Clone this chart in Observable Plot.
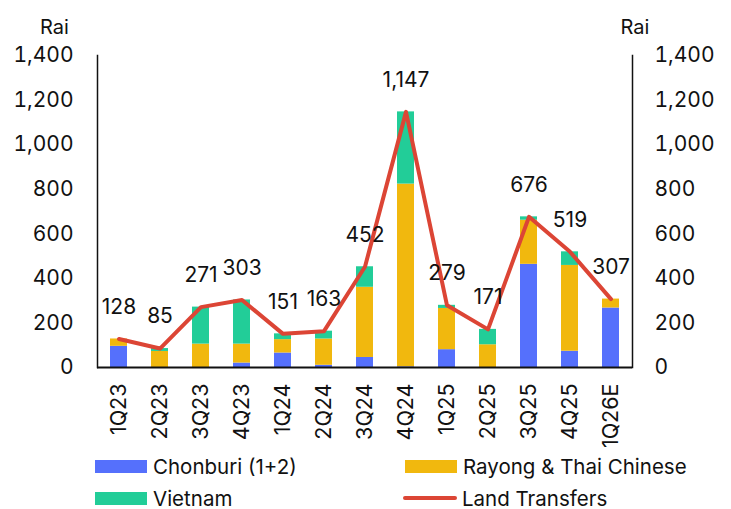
<!DOCTYPE html>
<html>
<head>
<meta charset="utf-8">
<script src="https://cdn.jsdelivr.net/npm/d3@7"></script>
<script src="https://cdn.jsdelivr.net/npm/@observablehq/plot@0.6"></script>
<style>
  body { margin: 0; background: #fff; font-family: Inter, "Noto Sans", sans-serif; }
  #chart { position: relative; width: 731px; height: 450px; }
  .legend { position: relative; width: 731px; height: 59px; font-size: 20.5px; color: #111; }
  .item { position: absolute; display: flex; align-items: center; height: 24px; }
  .sw { width: 52px; height: 13px; margin-right: 6px; }
  .ln { width: 54px; height: 4px; margin-right: 5px; border-radius: 2px; }
</style>
</head>
<body>
<div id="chart"></div>
<div class="legend" id="legend"></div>
<script>
const quarters = ["1Q23","2Q23","3Q23","4Q23","1Q24","2Q24","3Q24","4Q24","1Q25","2Q25","3Q25","4Q25","1Q26E"];
const chonburi = [95, 0, 0, 20, 65, 10, 45, 3, 80, 0, 463, 73, 267];
const rayong   = [33, 72, 105, 85, 60, 118, 315, 820, 185, 102, 198, 385, 40];
const vietnam  = [0, 13, 166, 198, 26, 35, 92, 324, 14, 69, 15, 61, 0];
const landTransfers = [128, 85, 271, 303, 151, 163, 452, 1147, 279, 171, 676, 519, 307];
const seriesNames = ["Chonburi (1+2)", "Rayong & Thai Chinese", "Vietnam"];
const seriesColors = ["#5570FC", "#F1B80E", "#22CD98"];
const lineName = "Land Transfers";
const lineColor = "#DC4535";
const yTicks = [0, 200, 400, 600, 800, 1000, 1200, 1400];

const stacked = [];
quarters.forEach((q, i) => {
  [chonburi, rayong, vietnam].forEach((arr, s) => {
    stacked.push({q, series: seriesNames[s], v: arr[i]});
  });
});
const totals = quarters.map((q, i) => ({q, v: landTransfers[i]}));
const fmt = d3.format(",");

const font = "Inter, 'Noto Sans', sans-serif";
const plot = Plot.plot({
  width: 731,
  height: 450,
  marginTop: 55,
  marginBottom: 83,
  marginLeft: 97,
  marginRight: 99,
  style: {fontFamily: font, fontSize: "21px", color: "#111", background: "#fff", overflow: "visible"},
  x: {domain: quarters, paddingInner: 0.59, paddingOuter: 0.26, label: null},
  y: {domain: [0, 1400], label: null},
  color: {domain: seriesNames, range: seriesColors},
  marks: [
    Plot.barY(stacked, {x: "q", y: "v", fill: "series", order: seriesNames}),
    Plot.line(totals, {x: "q", y: "v", stroke: lineColor, strokeWidth: 4}),
    Plot.text(totals, {x: "q", y: "v", text: d => fmt(d.v), dy: -32, fill: "#111", fontSize: 21}),
    Plot.axisY({anchor: "left", ticks: yTicks, tickFormat: fmt, tickSize: 0, tickPadding: 24, fontSize: 21, label: null}),
    Plot.axisY({anchor: "right", ticks: yTicks, tickFormat: fmt, tickSize: 0, tickPadding: 22, fontSize: 21, label: null}),
    Plot.axisX({tickRotate: -90, tickSize: 0, tickPadding: 16, fontSize: 21.5, label: null}),
    Plot.frame({anchor: "left", stroke: "#111", strokeWidth: 1.5}),
    Plot.frame({anchor: "right", stroke: "#111", strokeWidth: 1.5}),
    Plot.ruleY([0], {stroke: "#111", strokeWidth: 2}),
    Plot.text(["Rai"], {frameAnchor: "top-left", dx: -43, dy: -36, fontSize: 20, textAnchor: "middle", fill: "#111"}),
    Plot.text(["Rai"], {frameAnchor: "top-right", dx: -12, dy: -36, fontSize: 20, textAnchor: "start", fill: "#111"})
  ]
});
document.getElementById("chart").appendChild(plot);

const legend = document.getElementById("legend");
const items = [
  {name: seriesNames[0], color: seriesColors[0], left: 95, top: 4, type: "bar"},
  {name: seriesNames[1], color: seriesColors[1], left: 405, top: 4, type: "bar"},
  {name: seriesNames[2], color: seriesColors[2], left: 95, top: 36, type: "bar"},
  {name: lineName, color: lineColor, left: 403, top: 36, type: "line"}
];
items.forEach(it => {
  const d = document.createElement("div");
  d.className = "item";
  d.style.left = it.left + "px";
  d.style.top = it.top + "px";
  const s = document.createElement("div");
  s.className = it.type === "bar" ? "sw" : "ln";
  s.style.background = it.color;
  const t = document.createElement("span");
  t.textContent = it.name;
  d.appendChild(s); d.appendChild(t);
  legend.appendChild(d);
});
</script>
</body>
</html>
